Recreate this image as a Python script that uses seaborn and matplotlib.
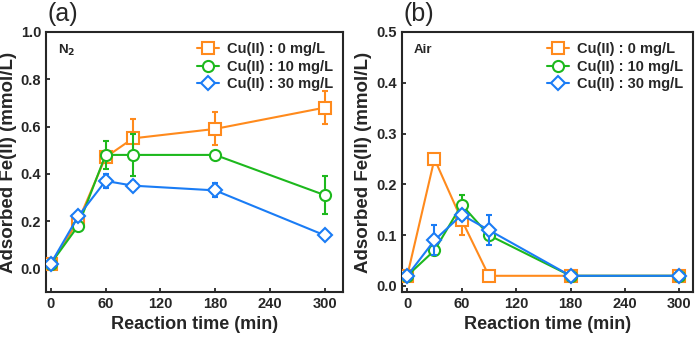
import numpy as np
import matplotlib
matplotlib.use("Agg")
import matplotlib.pyplot as plt
import seaborn as sns
import pandas as pd

#################################################
#   DATA    --------------------------------------
#################################################
time_min = [0, 30, 60, 90, 180, 300]
labels = ["Cu(II) : 0 mg/L", "Cu(II) : 10 mg/L", "Cu(II) : 30 mg/L"]

# N2 atmosphere
n2_cu0 = [0.02, 0.20, 0.47, 0.55, 0.59, 0.68]
n2_cu0_err = [0.0, 0.02, 0.02, 0.08, 0.07, 0.07]
n2_cu10 = [0.02, 0.18, 0.48, 0.48, 0.48, 0.31]
n2_cu10_err = [0.0, 0.01, 0.06, 0.09, 0.0, 0.08]
n2_cu30 = [0.02, 0.22, 0.37, 0.35, 0.33, 0.14]
n2_cu30_err = [0.0, 0.01, 0.03, 0.02, 0.03, 0.01]

# Air atmosphere
air_cu0 = [0.02, 0.25, 0.13, 0.02, 0.02, 0.02]
air_cu0_err = [0.0, 0.005, 0.03, 0.0, 0.0, 0.0]
air_cu10 = [0.02, 0.07, 0.16, 0.10, 0.02, 0.02]
air_cu10_err = [0.0, 0.01, 0.02, 0.01, 0.0, 0.0]
air_cu30 = [0.02, 0.09, 0.14, 0.11, 0.02, 0.02]
air_cu30_err = [0.0, 0.03, 0.01, 0.03, 0.0, 0.0]

colors = ["#FF8A1C", "#1DB81D", "#1A7CF5"]
markers = ["s", "o", "D"]
msizes = [8, 8, 7]

sns.set_style("ticks")
plt.rcParams["font.family"] = ["Liberation Sans", "DejaVu Sans"]
plt.rcParams["font.weight"] = "bold"
plt.rcParams["axes.labelweight"] = "bold"
plt.rcParams["xtick.direction"] = "in"
plt.rcParams["ytick.direction"] = "in"

fig = plt.figure(figsize=(7, 3.4), dpi=100)
ax_a = fig.add_axes([0.066, 0.141, 0.424, 0.765])
ax_b = fig.add_axes([0.574, 0.141, 0.416, 0.765])


def draw_panel(ax, series, errs):
    for k in range(3):
        df = pd.DataFrame({"t": time_min, "y": series[k]})
        ax.errorbar(time_min, series[k], yerr=errs[k], fmt="none",
                    ecolor=colors[k], elinewidth=1.5, capsize=2.5,
                    capthick=1.5, zorder=2 + k)
        sns.lineplot(data=df, x="t", y="y", ax=ax, color=colors[k],
                     marker=markers[k], markersize=msizes[k],
                     markerfacecolor="white", markeredgecolor=colors[k],
                     markeredgewidth=1.5, linewidth=1.5, label=labels[k],
                     zorder=3 + k)


draw_panel(ax_a, [n2_cu0, n2_cu10, n2_cu30],
           [n2_cu0_err, n2_cu10_err, n2_cu30_err])
draw_panel(ax_b, [air_cu0, air_cu10, air_cu30],
           [air_cu0_err, air_cu10_err, air_cu30_err])

ax_a.set_xlim(-5, 320)
ax_a.set_ylim(-0.1, 1.0)
ax_a.set_yticks([0.0, 0.2, 0.4, 0.6, 0.8, 1.0])
ax_b.set_xlim(-6, 315)
ax_b.set_ylim(-0.012, 0.5)
ax_b.set_yticks([0.0, 0.1, 0.2, 0.3, 0.4, 0.5])

for ax, tag, pos, cond in [(ax_a, "(a)", 0.068, "N$_\\mathbf{2}$"),
                           (ax_b, "(b)", 0.577, "Air")]:
    ax.set_xticks([0, 60, 120, 180, 240, 300])
    ax.set_xlabel("Reaction time (min)", fontsize=13, fontweight="bold")
    ax.set_ylabel("Adsorbed Fe(II) (mmol/L)", fontsize=13.5,
                  fontweight="bold", labelpad=3)
    ax.tick_params(labelsize=10.5, width=1.3, length=3)
    for lbl in ax.get_xticklabels() + ax.get_yticklabels():
        lbl.set_fontweight("bold")
    for sp in ax.spines.values():
        sp.set_linewidth(1.5)
    ax.text(0.04, 0.93, cond, transform=ax.transAxes, fontsize=9.5,
            fontweight="bold", va="center", ha="left")
    fig.text(pos, 0.995, tag, fontsize=18, va="top", ha="left",
             fontweight="normal")
    ax.legend(loc="upper right", frameon=False,
              handlelength=1.5, handletextpad=0.5, labelspacing=0.25,
              borderaxespad=0.3, prop={"weight": "bold", "size": 10.5})

fig.savefig("out.png", dpi=100)
